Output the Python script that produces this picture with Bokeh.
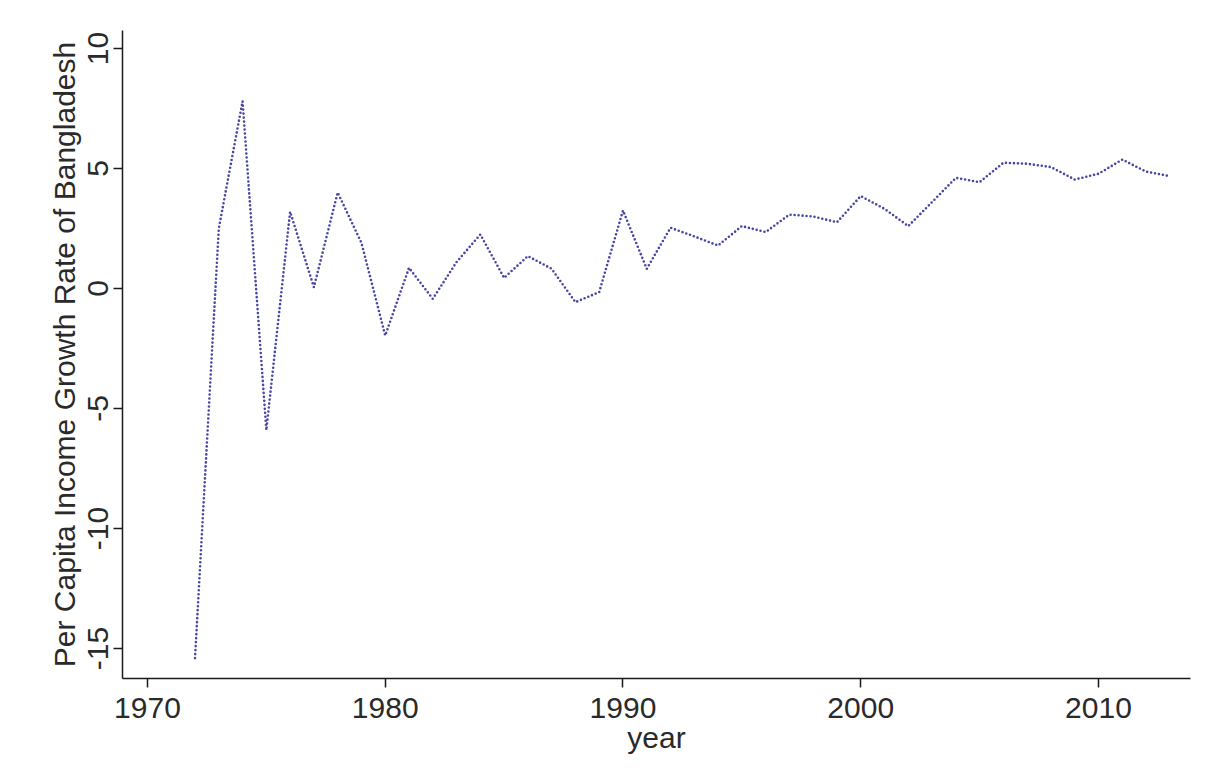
from bokeh.plotting import figure
from bokeh.models import Range1d, FixedTicker, PrintfTickFormatter
from bokeh.embed import file_html
from bokeh.resources import INLINE

years = list(range(1972, 2014))
growth = [-15.4, 2.5, 7.8, -5.9, 3.2, 0.05, 4.0, 1.9, -1.96, 0.86,
          -0.43, 1.1, 2.25, 0.44, 1.35, 0.82, -0.57, -0.15, 3.25, 0.82,
          2.53, 2.17, 1.79, 2.6, 2.35, 3.08, 3.0, 2.76, 3.85, 3.32,
          2.6, 3.6, 4.61, 4.43, 5.24, 5.2, 5.06, 4.54, 4.78, 5.37,
          4.87, 4.68]

x_ticks = [1970, 1980, 1990, 2000, 2010]
y_ticks = [-15, -10, -5, 0, 5, 10]

p = figure(width=1211, height=768, output_backend="svg", toolbar_location=None,
           x_range=Range1d(1968.95, 2013.87), y_range=Range1d(-16.25, 10.75),
           min_border_left=122, min_border_right=21, min_border_top=30,
           min_border_bottom=90)
p.outline_line_color = None
p.xgrid.visible = False
p.ygrid.visible = False

p.line(years, growth, line_color="#4848a2", line_width=2.6, line_dash="0 4",
       line_cap="round")

font = "Liberation Sans"
for ax in (p.xaxis[0], p.yaxis[0]):
    ax.axis_line_color = "#1a1a1a"
    ax.axis_line_width = 1.5
    ax.major_tick_line_color = "#1a1a1a"
    ax.major_tick_line_width = 1.5
    ax.major_tick_out = 9
    ax.major_tick_in = 0
    ax.minor_tick_line_color = None
    ax.major_label_text_font = font
    ax.major_label_text_font_size = "30px"
    ax.major_label_text_color = "#2a2a2a"
    ax.axis_label_text_font = font
    ax.axis_label_text_font_style = "normal"
    ax.axis_label_text_color = "#2a2a2a"
    ax.axis_label_text_font_size = "30px"

p.xaxis.ticker = FixedTicker(ticks=x_ticks)
p.yaxis.ticker = FixedTicker(ticks=y_ticks)
p.xaxis.formatter = PrintfTickFormatter(format="%d")
p.yaxis.formatter = PrintfTickFormatter(format="%d")
p.yaxis.major_label_orientation = "parallel"
p.xaxis.axis_label = "year"
p.yaxis.axis_label = "Per Capita Income Growth Rate of Bangladesh"
p.xaxis.major_label_standoff = 10
p.xaxis.axis_label_standoff = 0
p.yaxis.major_label_standoff = 6
p.yaxis.axis_label_standoff = 4

open("out.html", "w").write(file_html(p, INLINE))
